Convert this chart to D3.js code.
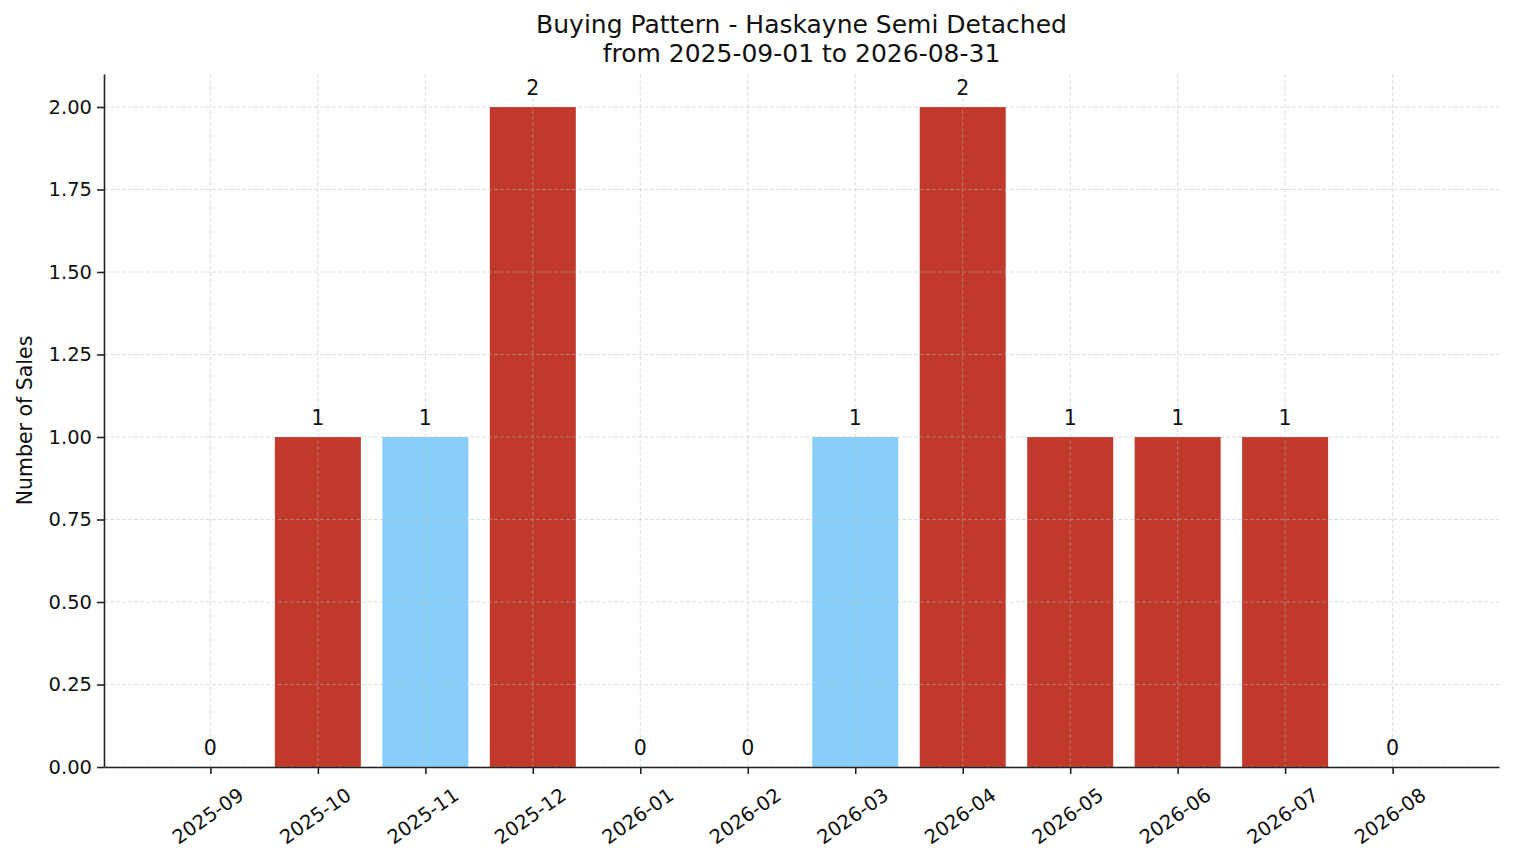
<!DOCTYPE html>
<html>
<head>
<meta charset="utf-8">
<script src="https://cdn.jsdelivr.net/npm/d3@7"></script>
<style>
  body { margin: 0; background: #fff; }
  text { font-family: "DejaVu Sans", sans-serif; fill: #111; }
</style>
</head>
<body>
<div id="chart"></div>
<script>
var months = ["2025-09", "2025-10", "2025-11", "2025-12", "2026-01", "2026-02",
  "2026-03", "2026-04", "2026-05", "2026-06", "2026-07", "2026-08"];
var sales = [0, 1, 1, 2, 0, 0, 1, 2, 1, 1, 1, 0];
var barColors = ["#c0392b", "#c0392b", "#87cefa", "#c0392b", "#c0392b", "#c0392b",
  "#87cefa", "#c0392b", "#c0392b", "#c0392b", "#c0392b", "#c0392b"];
var yTicks = [0, 0.25, 0.5, 0.75, 1, 1.25, 1.5, 1.75, 2];

var svgWidth = 1514, svgHeight = 863;
var margin = { top: 74, right: 15, bottom: 96, left: 104 };
var width = svgWidth - margin.left - margin.right;
var height = svgHeight - margin.top - margin.bottom;

var svg = d3.select("#chart").append("svg")
  .attr("width", svgWidth)
  .attr("height", svgHeight);

var g = svg.append("g")
  .attr("transform", "translate(" + margin.left + "," + margin.top + ")");

// linear x over month index, like matplotlib's bar positions with 5% margins
var x = d3.scaleLinear().domain([-0.99, 11.99]).range([0, width]);
var y = d3.scaleLinear().domain([0, 2.1]).range([height, 0]);
var barW = x(0.8) - x(0);

g.selectAll(".bar")
  .data(sales)
  .enter()
  .append("rect")
  .attr("x", function (d, i) { return x(i - 0.4); })
  .attr("y", function (d) { return y(d); })
  .attr("width", barW)
  .attr("height", function (d) { return height - y(d); })
  .attr("fill", function (d, i) { return barColors[i]; });

// grid on top of bars
var grid = g.append("g").attr("stroke", "#bbb").attr("stroke-width", 0.8)
  .attr("stroke-dasharray", "4,2").attr("opacity", 0.6);
grid.selectAll(".hg").data(yTicks).enter().append("line")
  .attr("x1", 0).attr("x2", width)
  .attr("y1", function (d) { return y(d); })
  .attr("y2", function (d) { return y(d); });
grid.selectAll(".vg").data(months).enter().append("line")
  .attr("x1", function (d, i) { return x(i); })
  .attr("x2", function (d, i) { return x(i); })
  .attr("y1", 0).attr("y2", height);

// value labels
g.selectAll(".val")
  .data(sales)
  .enter()
  .append("text")
  .attr("x", function (d, i) { return x(i); })
  .attr("y", function (d) { return y(d) - 12; })
  .attr("text-anchor", "middle")
  .style("font-size", "20.5px")
  .text(function (d) { return d; });

// axes
var yAxis = g.append("g")
  .call(d3.axisLeft(y).tickValues(yTicks).tickFormat(d3.format(".2f"))
    .tickSize(7).tickSizeOuter(0).tickPadding(5));
var xAxis = g.append("g")
  .attr("transform", "translate(0," + height + ")")
  .call(d3.axisBottom(x).tickValues(d3.range(months.length))
    .tickFormat(function (i) { return months[i]; }).tickSize(7).tickSizeOuter(0));

[xAxis, yAxis].forEach(function (a) {
  a.select(".domain").attr("stroke", "#222").attr("stroke-width", 1.6);
  a.selectAll(".tick line").attr("stroke", "#222").attr("stroke-width", 1.6);
  a.selectAll("text").style("font-size", "19.5px").style("font-family", "DejaVu Sans").attr("fill", "#111");
});

xAxis.selectAll(".tick text")
  .attr("text-anchor", "middle")
  .attr("y", 0)
  .attr("dy", "0.35em")
  .attr("transform", "translate(-3,49) rotate(-35)");

// titles
svg.append("text")
  .attr("x", margin.left + width / 2).attr("y", 33)
  .attr("text-anchor", "middle").style("font-size", "25px")
  .text("Buying Pattern - Haskayne Semi Detached");
svg.append("text")
  .attr("x", margin.left + width / 2).attr("y", 62)
  .attr("text-anchor", "middle").style("font-size", "25px")
  .text("from 2025-09-01 to 2026-08-31");

svg.append("text")
  .attr("transform", "translate(32," + (margin.top + height / 2) + ") rotate(-90)")
  .attr("text-anchor", "middle").style("font-size", "20.5px")
  .text("Number of Sales");
</script>
</body>
</html>
